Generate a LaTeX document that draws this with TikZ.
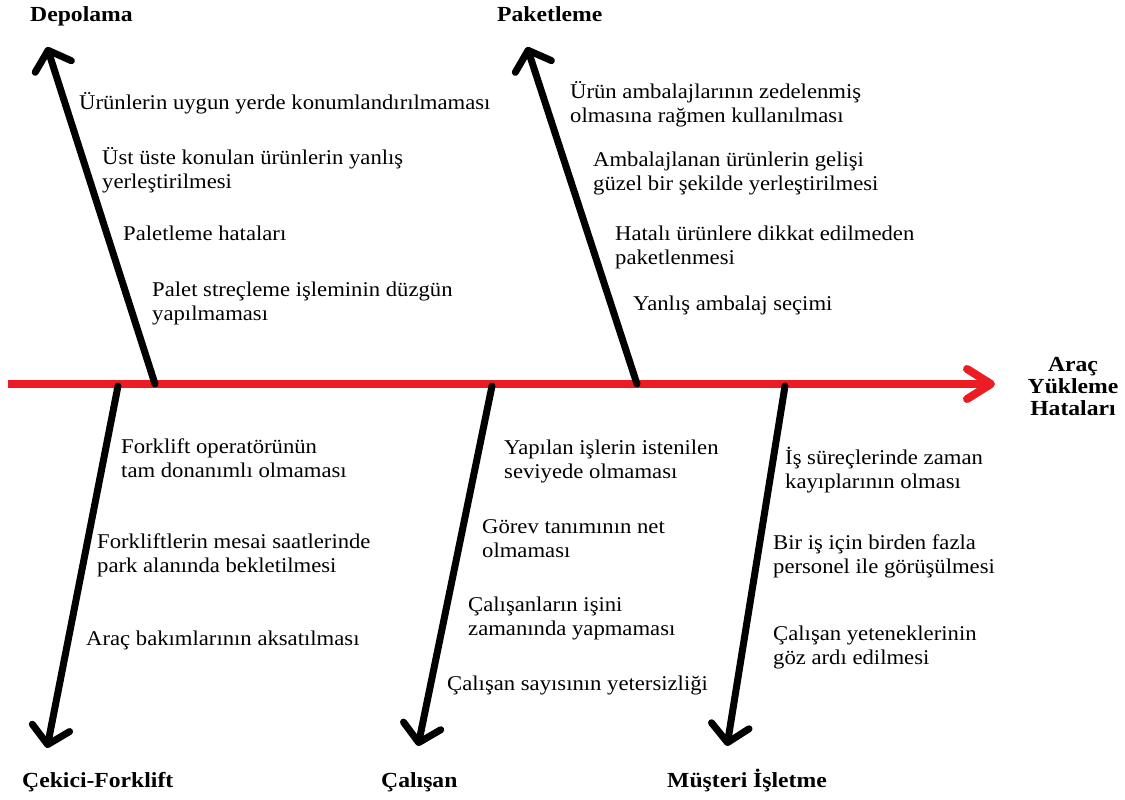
\documentclass[tikz,border=0pt]{standalone}
\usepackage{fontspec}
\setmainfont{Liberation Serif}
\newfontfamily\causefont[FakeStretch=1.08]{Liberation Serif}
\newfontfamily\catfont[FakeStretch=1.1]{Liberation Serif}
\usetikzlibrary{arrows.meta}
\definecolor{spinered}{RGB}{237,28,36}
\tikzset{
  cause/.style={anchor=base west, align=left, inner sep=0pt, font=\causefont\fontsize{21}{24}\selectfont},
  cat/.style={anchor=base west, inner sep=0pt, font=\catfont\fontsize{21.5}{22}\selectfont\bfseries},
  bone/.style={line width=7pt, line cap=round, -{Straight Barb[length=17pt, width=38pt, line cap=round, line join=round]}},
  spine/.style={line width=8pt, spinered, -{Straight Barb[length=24pt, width=30pt, line cap=round, line join=round]}}
}
\begin{document}
\begin{tikzpicture}[x=1pt,y=-1pt]
\useasboundingbox (0,0) rectangle (1125,800);
% spine
\coordinate (s0) at (8,384);
\coordinate (s1) at (995,384);
\draw[spine] (s0) -- (s1);
% bones
\coordinate (dB) at (155,384); \coordinate (dT) at (47,47);
\coordinate (pB) at (637,384); \coordinate (pT) at (527,47);
\coordinate (fB) at (118,386); \coordinate (fT) at (47,748);
\coordinate (cB) at (492,386); \coordinate (cT) at (418,746);
\coordinate (mB) at (785,386); \coordinate (mT) at (727,746);
\draw[bone] (dB) -- (dT);
\draw[bone] (pB) -- (pT);
\draw[bone] (fB) -- (fT);
\draw[bone] (cB) -- (cT);
\draw[bone] (mB) -- (mT);
% categories
\node[cat] (depolama) at (30,22) {Depolama};
\node[cat] (paketleme) at (497,22) {Paketleme};
\node[cat] (cekici) at (22,787) {Çekici-Forklift};
\node[cat] (calisan) at (381,787) {Çalışan};
\node[cat] (musteri) at (667,787) {Müşteri İşletme};
\node[anchor=base, align=center, inner sep=0pt, font=\catfont\fontsize{21.5}{22}\selectfont\bfseries] (effect) at (1073,415) {Araç\\Yükleme\\Hataları};
% Depolama causes
\node[cause] (d1) at (79,110) {Ürünlerin uygun yerde konumlandırılmaması};
\node[cause] (d2) at (102,188) {Üst üste konulan ürünlerin yanlış\\yerleştirilmesi};
\node[cause] (d3) at (123,240) {Paletleme hataları};
\node[cause] (d4) at (152,320) {Palet streçleme işleminin düzgün\\yapılmaması};
% Paketleme causes
\node[cause] (p1) at (570,122) {Ürün ambalajlarının zedelenmiş\\olmasına rağmen kullanılması};
\node[cause] (p2) at (593,190) {Ambalajlanan ürünlerin gelişi\\güzel bir şekilde yerleştirilmesi};
\node[cause] (p3) at (615,264) {Hatalı ürünlere dikkat edilmeden\\paketlenmesi};
\node[cause] (p4) at (633,310) {Yanlış ambalaj seçimi};
% Cekici-Forklift causes
\node[cause] (f1) at (121,477) {Forklift operatörünün\\tam donanımlı olmaması};
\node[cause] (f2) at (97,572) {Forkliftlerin mesai saatlerinde\\park alanında bekletilmesi};
\node[cause] (f3) at (86,645) {Araç bakımlarının aksatılması};
% Calisan causes
\node[cause] (c1) at (504,478) {Yapılan işlerin istenilen\\seviyede olmaması};
\node[cause] (c2) at (482,557) {Görev tanımının net\\olmaması};
\node[cause] (c3) at (468,635) {Çalışanların işini\\zamanında yapmaması};
\node[cause] (c4) at (447,690) {Çalışan sayısının yetersizliği};
% Musteri causes
\node[cause] (m1) at (785,488) {İş süreçlerinde zaman\\kayıplarının olması};
\node[cause] (m2) at (773,573) {Bir iş için birden fazla\\personel ile görüşülmesi};
\node[cause] (m3) at (773,664) {Çalışan yeteneklerinin\\göz ardı edilmesi};
\end{tikzpicture}
\end{document}
